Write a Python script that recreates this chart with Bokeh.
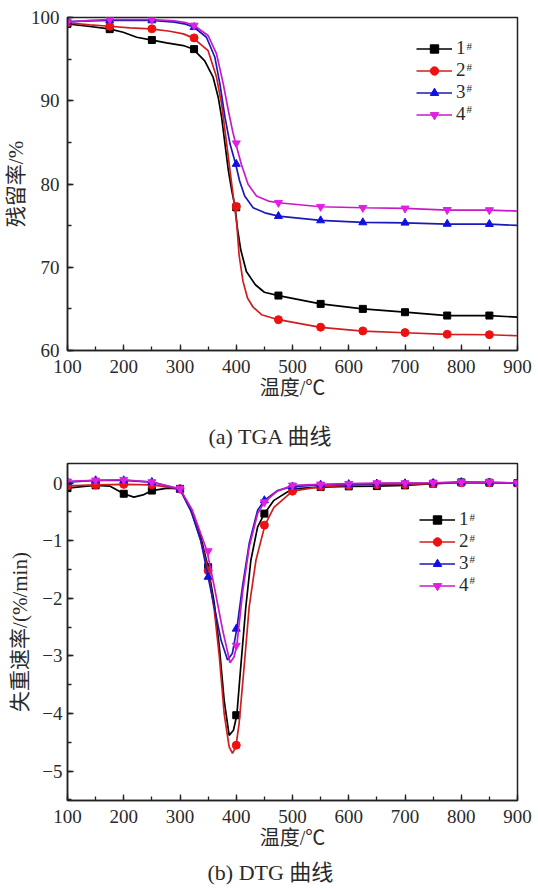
from bokeh.plotting import figure
from bokeh.models import Legend, LegendItem, Label, SingleIntervalTicker, Range1d, Title
from bokeh.layouts import column
from bokeh.embed import file_html
from bokeh.resources import INLINE

# ---------------- data: TGA (residual mass %) ----------------
tga_t_1 = [100, 140, 174, 199, 223, 248, 276, 306, 323, 344, 359, 368, 374, 380, 386, 392, 398, 402, 408, 418, 434, 450, 475, 550, 625, 700, 775, 850, 900]
tga_v_1 = [99.24, 98.92, 98.63, 98.23, 97.63, 97.31, 96.95, 96.63, 96.22, 94.8, 92.8, 90.4, 88.0, 84.8, 81.6, 79.2, 77.2, 74.7, 72.1, 69.5, 67.9, 67.0, 66.6, 65.6, 65.0, 64.6, 64.2, 64.2, 64.0]

tga_t_2 = [100, 140, 174, 211, 248, 282, 306, 323, 350, 365, 374, 383, 392, 397, 401, 405, 412, 420, 430, 445, 475, 550, 625, 700, 775, 850, 900]
tga_v_2 = [99.36, 99.12, 98.95, 98.75, 98.63, 98.35, 98.03, 97.55, 96.02, 92.81, 89.6, 84.78, 79.96, 77.35, 75.14, 71.5, 68.3, 66.3, 65.2, 64.3, 63.7, 62.77, 62.33, 62.13, 61.93, 61.89, 61.77]

tga_t_3 = [100, 140, 175, 250, 290, 310, 325, 347, 362, 371, 380, 389, 399, 406, 415, 430, 451, 475, 550, 625, 700, 775, 850, 900]
tga_v_3 = [99.5, 99.6, 99.64, 99.64, 99.45, 99.2, 98.83, 97.63, 95.22, 92.0, 88.0, 84.8, 82.37, 80.36, 78.55, 77.15, 76.54, 76.14, 75.62, 75.38, 75.34, 75.18, 75.18, 75.02]

tga_t_4 = [100, 140, 175, 250, 290, 310, 325, 350, 365, 377, 386, 394, 399, 409, 421, 436, 457, 475, 550, 625, 700, 775, 850, 900]
tga_v_4 = [99.44, 99.65, 99.76, 99.76, 99.6, 99.4, 99.04, 97.83, 95.62, 92.0, 88.8, 86.2, 84.9, 82.37, 79.96, 78.55, 77.95, 77.75, 77.27, 77.15, 77.07, 76.87, 76.87, 76.75]

tga_mark_t = [100, 175, 250, 325, 400, 475, 550, 625, 700, 775, 850]
tga_mark_1 = [99.24, 98.6, 97.3, 96.2, 77.2, 66.6, 65.6, 65.0, 64.6, 64.2, 64.2]
tga_mark_2 = [99.36, 98.95, 98.64, 97.55, 77.3, 63.7, 62.8, 62.35, 62.15, 61.95, 61.9]
tga_mark_3 = [99.5, 99.64, 99.64, 98.83, 82.4, 76.14, 75.62, 75.38, 75.34, 75.2, 75.18]
tga_mark_4 = [99.44, 99.76, 99.76, 99.04, 84.9, 77.75, 77.27, 77.15, 77.07, 76.9, 76.87]

# ---------------- data: DTG (mass loss rate %/min) ----------------
dtg_t_1 = [100, 125, 150, 175, 200, 218, 236, 250, 278, 300, 322, 337, 350, 361, 370, 378.5, 387.4, 395, 401, 408, 417, 426, 438, 450, 467, 500, 550, 600, 650, 700, 750, 800, 850, 900]
dtg_v_1 = [-0.087, -0.06, -0.04, -0.052, -0.185, -0.243, -0.2, -0.13, -0.087, -0.1, -0.53, -0.94, -1.46, -2.09, -2.85, -3.77, -4.38, -4.29, -4.03, -3.19, -2.15, -1.34, -0.76, -0.53, -0.3, -0.1, -0.069, -0.057, -0.052, -0.04, -0.011, 0.012, 0.006, 0.0]

dtg_t_2 = [100, 150, 200, 250, 300, 322, 337, 350, 361, 370, 378.5, 387.4, 393.3, 399.3, 405, 414, 423, 435, 451, 467, 500, 550, 600, 650, 700, 750, 800, 850, 900]
dtg_v_2 = [-0.05, -0.03, -0.022, -0.03, -0.1, -0.53, -1.0, -1.52, -2.21, -3.02, -4.0, -4.58, -4.69, -4.58, -4.18, -3.19, -2.15, -1.34, -0.73, -0.42, -0.14, -0.06, -0.04, -0.028, -0.023, -0.011, 0.006, 0.006, 0.0]

dtg_t_3 = [100, 150, 200, 250, 300, 319, 337, 350, 361, 373, 384.5, 393, 401, 411, 423, 438, 450, 473, 500, 550, 600, 650, 700, 750, 800, 850, 900]
dtg_v_3 = [0.018, 0.047, 0.047, 0.018, -0.11, -0.47, -1.0, -1.63, -2.15, -2.73, -3.07, -2.96, -2.53, -1.8, -1.05, -0.47, -0.3, -0.13, -0.06, -0.03, -0.02, -0.01, -0.005, 0.0, 0.015, 0.01, 0.0]

dtg_t_4 = [100, 150, 200, 250, 300, 322, 348, 361, 376, 389, 396, 401, 411, 423, 438, 450, 473, 500, 550, 600, 650, 700, 750, 800, 850, 900]
dtg_v_4 = [0.03, 0.047, 0.058, 0.018, -0.1, -0.47, -1.18, -1.8, -2.56, -3.12, -3.02, -2.82, -1.92, -1.11, -0.53, -0.33, -0.14, -0.04, -0.023, -0.011, 0.0, 0.0, 0.006, 0.018, 0.018, 0.0]

dtg_mark_t = [100, 150, 200, 250, 300, 350, 400, 450, 500, 550, 600, 650, 700, 750, 800, 850, 900]
dtg_mark_1 = [-0.087, -0.04, -0.185, -0.13, -0.1, -1.46, -4.03, -0.53, -0.1, -0.069, -0.057, -0.052, -0.04, -0.011, 0.012, 0.006, 0.0]
dtg_mark_2 = [-0.05, -0.03, -0.022, -0.03, -0.1, -1.52, -4.55, -0.73, -0.14, -0.06, -0.04, -0.028, -0.023, -0.011, 0.006, 0.006, 0.0]
dtg_mark_3 = [0.018, 0.047, 0.047, 0.018, -0.11, -1.63, -2.53, -0.3, -0.06, -0.03, -0.02, -0.01, -0.005, 0.0, 0.015, 0.01, 0.0]
dtg_mark_4 = [0.03, 0.047, 0.058, 0.018, -0.1, -1.18, -2.82, -0.33, -0.04, -0.023, -0.011, 0.0, 0.0, 0.006, 0.018, 0.018, 0.0]

series_names = ["1", "2", "3", "4"]
line_colors = ["#000000", "#d01e1e", "#1a1ab8", "#c81ac8"]
mark_colors = ["#000000", "#ee1111", "#1010e0", "#e020e0"]
markers = ["square", "circle", "triangle", "inverted_triangle"]

SERIF = "Liberation Serif"
MIXED = "Liberation Serif, Noto Sans CJK SC"
TXT = "#2a2a2a"


def style(p, yint):
    p.xgrid.visible = False
    p.ygrid.visible = False
    p.outline_line_color = "#222222"
    p.outline_line_width = 1.5
    p.xaxis.ticker = SingleIntervalTicker(interval=100, num_minor_ticks=2)
    p.yaxis.ticker = SingleIntervalTicker(interval=yint, num_minor_ticks=2)
    for ax in (p.xaxis[0], p.yaxis[0]):
        ax.axis_line_color = "#222222"
        ax.axis_line_width = 1.5
        ax.major_tick_in = 6
        ax.major_tick_out = 0
        ax.minor_tick_in = 4
        ax.minor_tick_out = 0
        ax.major_tick_line_color = "#222222"
        ax.minor_tick_line_color = "#222222"
        ax.major_tick_line_width = 1.3
        ax.minor_tick_line_width = 1.3
        ax.major_label_text_font = SERIF
        ax.major_label_text_font_size = "19px"
        ax.major_label_text_color = TXT
        ax.axis_label_text_font = MIXED
        ax.axis_label_text_font_style = "normal"
        ax.axis_label_text_color = TXT
    p.xaxis.axis_label_text_font_size = "20px"
    p.yaxis.axis_label_text_font_size = "21px"
    p.xaxis.major_label_standoff = 9
    p.xaxis.axis_label_standoff = 1


def draw(p, ts, vs, mt, mvs, loc, sup_x, sup_ys):
    items = []
    for name, t, v, mv, lc, mc, mk in zip(series_names, ts, vs, mvs, line_colors, mark_colors, markers):
        ln = p.line(t, v, line_color=lc, line_width=1.7)
        sc = p.scatter(mt, mv, marker=mk, size=8 if mk != "square" else 7,
                       fill_color=mc, line_color=mc)
        items.append(LegendItem(label=name, renderers=[ln, sc]))
    lg = Legend(items=items, location=loc, glyph_width=36, glyph_height=21,
                label_height=21, spacing=0, padding=0, margin=0,
                label_standoff=4, label_text_font=SERIF,
                label_text_font_size="19px", label_text_color=TXT,
                border_line_alpha=0, background_fill_alpha=0)
    p.add_layout(lg)
    for y in sup_ys:
        p.add_layout(Label(x=sup_x, y=y, text="#", text_font=SERIF,
                           text_font_size="11px", text_color=TXT,
                           text_align="left", text_baseline="middle"))


# ---------------- (a) TGA ----------------
p1 = figure(frame_width=450, frame_height=333, x_range=Range1d(100, 900), y_range=Range1d(60, 100),
            output_backend="svg", toolbar_location=None,
            min_border_left=66, min_border_right=22, min_border_top=17, min_border_bottom=52)
style(p1, 10)
p1.xaxis.axis_label = "温度/℃"
p1.yaxis.axis_label = "残留率/%"
p1.yaxis.major_label_standoff = 8
p1.yaxis.axis_label_standoff = 0
draw(p1, [tga_t_1, tga_t_2, tga_t_3, tga_t_4], [tga_v_1, tga_v_2, tga_v_3, tga_v_4],
     tga_mark_t, [tga_mark_1, tga_mark_2, tga_mark_3, tga_mark_4],
     (349, 225), 809.3, [96.60, 94.08, 91.56, 89.03])

# ---------------- (b) DTG ----------------
cap_a = Title(text="(a) TGA 曲线", text_font=MIXED, text_font_size="22px",
              text_font_style="normal", text_color=TXT, align="left",
              offset=141, standoff=30)
p2 = figure(frame_width=450, frame_height=337, x_range=Range1d(100, 900), y_range=Range1d(-5.51, 0.34),
            output_backend="svg", toolbar_location=None, title=cap_a, title_location="above",
            min_border_left=60, min_border_right=28, min_border_top=61, min_border_bottom=89)
style(p2, 1)
p2.xaxis.axis_label = "温度/℃"
p2.yaxis.axis_label = "失重速率/(%/min)"
p2.yaxis.major_label_standoff = 5
p2.yaxis.axis_label_standoff = 7
draw(p2, [dtg_t_1, dtg_t_2, dtg_t_3, dtg_t_4], [dtg_v_1, dtg_v_2, dtg_v_3, dtg_v_4],
     dtg_mark_t, [dtg_mark_1, dtg_mark_2, dtg_mark_3, dtg_mark_4],
     (352, 204), 814.7, [-0.592, -0.957, -1.321, -1.686])
p2.add_layout(Title(text="(b) DTG 曲线", text_font=MIXED, text_font_size="22px",
                    text_font_style="normal", text_color=TXT,
                    align="left", offset=140, standoff=12), "below")

layout = column(p1, p2, spacing=0)
open("out.html", "w").write(file_html(layout, INLINE))
